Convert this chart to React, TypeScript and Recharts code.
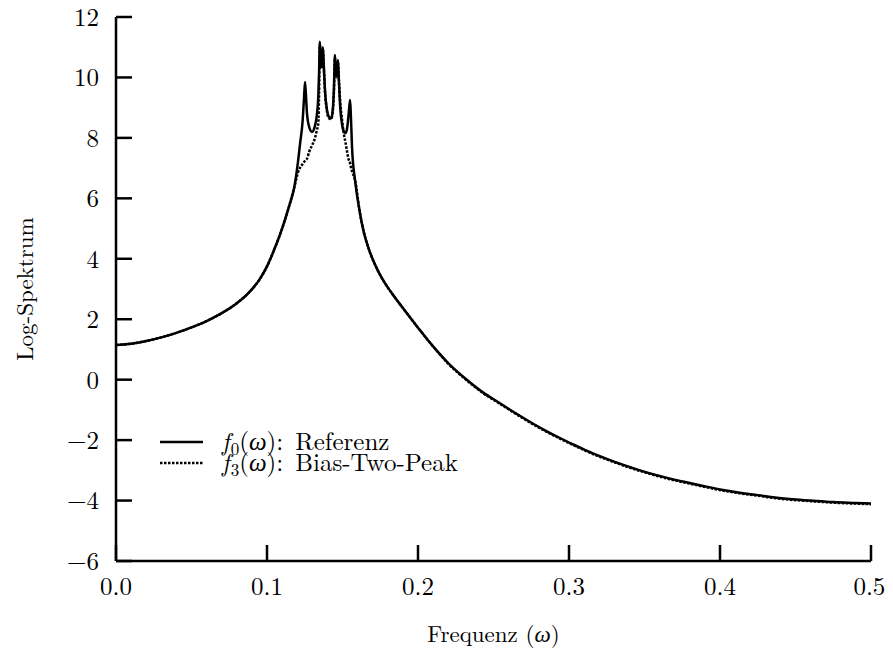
import React from 'react'
import { LineChart, Line, XAxis, YAxis, Legend, Label } from 'recharts'

const freq = [
  0.0, 0.01, 0.02, 0.03, 0.04, 0.05, 0.06, 0.07, 0.08, 0.088, 0.095, 0.1, 0.105, 0.11, 0.115, 0.118,
  0.1205, 0.122, 0.1235, 0.1245, 0.1252, 0.1258, 0.1265, 0.128, 0.1298, 0.1315, 0.133, 0.134, 0.1345,
  0.135, 0.1356, 0.136, 0.1365, 0.137, 0.1376, 0.1385, 0.1395, 0.141, 0.1425, 0.1435, 0.1443, 0.145,
  0.1456, 0.146, 0.1465, 0.147, 0.1476, 0.1485, 0.1497, 0.151, 0.152, 0.153, 0.154, 0.155, 0.1555,
  0.1563, 0.1583, 0.1616, 0.164, 0.1669, 0.1735, 0.178, 0.1828, 0.19, 0.2, 0.21, 0.22, 0.2325, 0.243,
  0.254, 0.265, 0.276, 0.285, 0.294, 0.304, 0.314, 0.325, 0.336, 0.347, 0.358, 0.369, 0.38, 0.391,
  0.402, 0.413, 0.425, 0.435, 0.446, 0.46, 0.475, 0.49, 0.5,
]

const referenz = [
  1.15, 1.19, 1.28, 1.4, 1.55, 1.73, 1.94, 2.2, 2.53, 2.88, 3.31, 3.75, 4.33, 5.0, 5.8, 6.35,
  7.2, 7.85, 8.5, 9.3, 9.85, 9.4, 8.8, 8.35, 8.2, 8.35, 8.75, 9.4, 10.2,
  11.18, 10.6, 10.35, 10.55, 11.0, 10.4, 9.5, 9.0, 8.7, 8.65, 8.9, 9.6, 10.74,
  10.2, 10.05, 10.25, 10.58, 9.9, 9.0, 8.45, 8.2, 8.16, 8.3, 8.75, 9.25, 8.8,
  7.7, 6.6, 5.5, 4.9, 4.4, 3.6, 3.2, 2.85, 2.37, 1.72, 1.1, 0.55, -0.01, -0.42,
  -0.77, -1.12, -1.45, -1.7, -1.93, -2.17, -2.4, -2.62, -2.82, -3.0, -3.16, -3.3, -3.42, -3.54,
  -3.65, -3.74, -3.82, -3.89, -3.95, -4.0, -4.05, -4.08, -4.1,
]

const biasTwoPeak = [
  1.15, 1.19, 1.28, 1.4, 1.55, 1.73, 1.94, 2.2, 2.53, 2.88, 3.31, 3.75, 4.33, 5.0, 5.8, 6.35,
  6.85, 7.02, 7.13, 7.2, 7.24, 7.27, 7.31, 7.55, 7.75, 7.95, 8.25, 8.5, 9.5,
  11.05, 10.5, 10.3, 10.5, 10.95, 10.35, 9.45, 8.95, 8.65, 8.62, 8.85, 9.5, 10.65,
  10.15, 10.0, 10.2, 10.5, 9.95, 9.2, 8.6, 8.1, 7.85, 7.55, 7.3, 7.17, 7.05,
  6.9, 6.6, 5.5, 4.9, 4.4, 3.6, 3.2, 2.85, 2.37, 1.72, 1.1, 0.53, -0.03, -0.44,
  -0.79, -1.14, -1.47, -1.72, -1.95, -2.19, -2.42, -2.64, -2.84, -3.02, -3.18, -3.32, -3.44, -3.56,
  -3.67, -3.76, -3.84, -3.91, -3.97, -4.02, -4.07, -4.1, -4.12,
]

const xTicks = [0, 0.1, 0.2, 0.3, 0.4, 0.5]
const yTicks = [-6, -4, -2, 0, 2, 4, 6, 8, 10, 12]

const data = freq.map((f, i) => ({ f, ref: referenz[i], bias: biasTwoPeak[i] }))

const FONT =
  '"Latin Modern Roman", "CMU Serif", "Liberation Serif", "Times New Roman", "Noto Serif", "DejaVu Serif", serif'
const axisStyle = { stroke: '#000', strokeWidth: 2.5 }

const fmtY = (v: number) => (v < 0 ? `\u2212${Math.abs(v)}` : `${v}`)
const noTick = () => <g />

function LegendBox() {
  const rows = [
    { y: 11, dash: undefined, idx: '0', text: 'Referenz' },
    { y: 32, dash: '2.5 1.5', idx: '3', text: 'Bias-Two-Peak' },
  ]
  return (
    <svg width={330} height={46} style={{ display: 'block', overflow: 'visible' }}>
      {rows.map((r) => (
        <g key={r.idx}>
          <line x1={0} x2={43} y1={r.y} y2={r.y} stroke="#000" strokeWidth={2.5} strokeDasharray={r.dash} />
          <text x={62} y={r.y + 7.5} fontFamily={FONT} fontSize={25} fill="#000">
            <tspan fontStyle="italic">f</tspan>
            <tspan dx={1} dy={5} fontSize={17}>{r.idx}</tspan>
            <tspan dy={-5}>(</tspan>
            <tspan fontStyle="italic">ω</tspan>
            <tspan>):</tspan>
            <tspan dx={12}>{r.text}</tspan>
          </text>
        </g>
      ))}
    </svg>
  )
}

export default function App() {
  return (
    <div style={{ fontFamily: FONT, marginTop: -8 }}>
      <LineChart width={877} height={648} data={data} margin={{ top: 17, right: 14, left: 0, bottom: 0 }}>
        <XAxis
          dataKey="f"
          type="number"
          domain={[0, 0.5]}
          ticks={xTicks}
          tickFormatter={(v: number) => v.toFixed(1)}
          height={87}
          tickSize={-16}
          tickMargin={32}
          axisLine={axisStyle}
          tickLine={axisStyle}
          tick={{ fill: '#000', fontSize: 25, fontFamily: FONT }}
        >
          <Label
            content={({ viewBox }: any) => (
              <text
                x={viewBox.x + viewBox.width / 2}
                y={viewBox.y + 81}
                textAnchor="middle"
                fontSize={23}
                fontFamily={FONT}
                fill="#000"
              >
                Frequenz (<tspan fontStyle="italic">ω</tspan>)
              </text>
            )}
          />
        </XAxis>
        <XAxis
          xAxisId="top"
          orientation="top"
          type="number"
          domain={[0, 0.5]}
          ticks={xTicks}
          height={0}
          tickSize={-16}
          axisLine={axisStyle}
          tickLine={axisStyle}
          tick={noTick}
        />
        <YAxis
          type="number"
          domain={[-6, 12]}
          ticks={yTicks}
          width={108}
          tickSize={-16}
          tickMargin={33}
          tickFormatter={fmtY}
          axisLine={axisStyle}
          tickLine={axisStyle}
          tick={{ fill: '#000', fontSize: 25, fontFamily: FONT }}
        >
          <Label
            content={({ viewBox }: any) => {
              const cx = viewBox.x + 15
              const cy = viewBox.y + viewBox.height / 2
              return (
                <text
                  x={cx}
                  y={cy}
                  textAnchor="middle"
                  dominantBaseline="central"
                  transform={`rotate(-90 ${cx} ${cy})`}
                  fontSize={23}
                  fontFamily={FONT}
                  fill="#000"
                >
                  Log-Spektrum
                </text>
              )
            }}
          />
        </YAxis>
        <YAxis
          yAxisId="right"
          orientation="right"
          type="number"
          domain={[-6, 12]}
          ticks={yTicks}
          width={0}
          tickSize={-16}
          axisLine={axisStyle}
          tickLine={axisStyle}
          tick={noTick}
        />
        <Legend
          layout="vertical"
          align="center"
          verticalAlign="middle"
          wrapperStyle={{ position: 'absolute', left: 152, top: 431, width: 'auto', height: 'auto' }}
          content={() => <LegendBox />}
        />
        <Line
          dataKey="ref"
          type="monotone"
          stroke="#000"
          strokeWidth={2.5}
          dot={false}
          isAnimationActive={false}
        />
        <Line
          dataKey="bias"
          type="monotone"
          stroke="#000"
          strokeWidth={2.5}
          strokeDasharray="2.5 1.5"
          dot={false}
          isAnimationActive={false}
        />
      </LineChart>
    </div>
  )
}
